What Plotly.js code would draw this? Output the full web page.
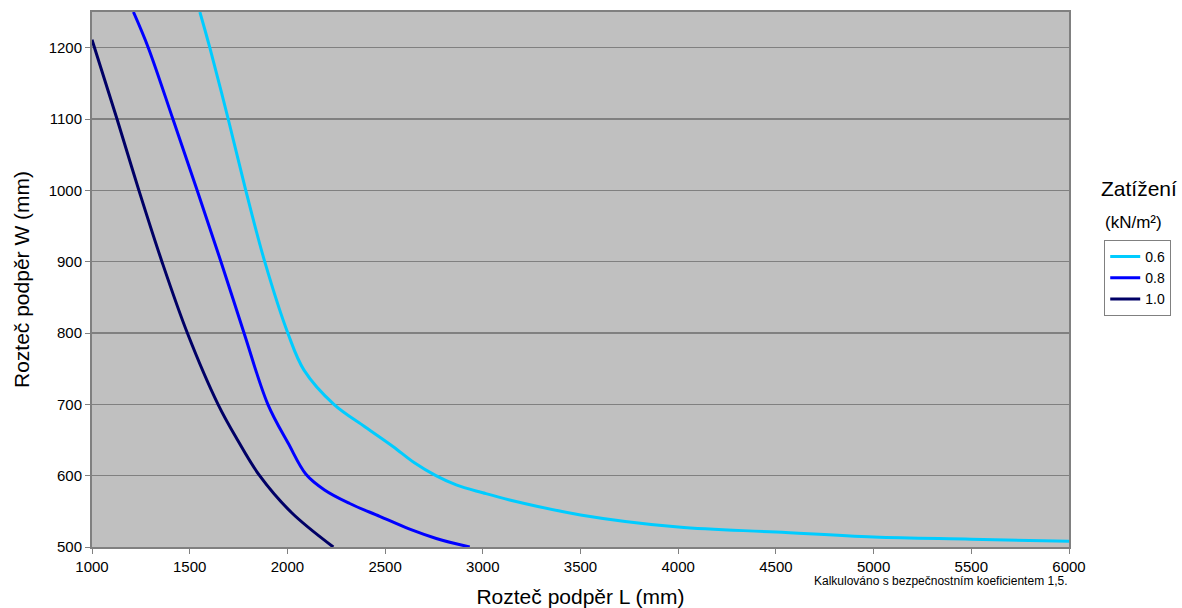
<!DOCTYPE html>
<html>
<head>
<meta charset="utf-8">
<script src="https://cdn.plot.ly/plotly-3.0.1.min.js"></script>
<style>html,body{margin:0;padding:0;background:#fff;}#chart{width:1182px;height:608px;}</style>
</head>
<body>
<div id="chart"></div>
<script>
// Load 0.6 kN/m²
const L06 = [1552, 1603, 1697, 1787, 1884, 2002, 2085, 2238, 2400, 2540, 2650, 2760, 2864, 3000, 3137, 3500, 4000, 4500, 5000, 5500, 6000];
const W06 = [1250, 1200, 1100, 1000, 900, 800, 748, 700, 668, 641, 618, 600, 587, 576, 566, 545, 528, 521, 514, 511, 508];
// Load 0.8 kN/m²
const L08 = [1212, 1288, 1414, 1538, 1660, 1778, 1900, 2005, 2095, 2190, 2319, 2472, 2626, 2762, 2933];
const W08 = [1250, 1200, 1100, 1000, 900, 800, 700, 645, 602, 580, 561, 543, 525, 512, 500];
// Load 1.0 kN/m²
const L10 = [1000, 1128, 1240, 1358, 1488, 1645, 1745, 1858, 2022, 2235];
const W10 = [1211, 1100, 1000, 900, 800, 700, 650, 600, 548, 500];

const seriesNames = ['0.6', '0.8', '1.0'];
const xTicks = [1000, 1500, 2000, 2500, 3000, 3500, 4000, 4500, 5000, 5500, 6000];
const yTicks = [500, 600, 700, 800, 900, 1000, 1100, 1200];

const colors = ['#00ccff', '#0000ff', '#000066'];
const xs = [L06, L08, L10];
const ys = [W06, W08, W10];

const traces = seriesNames.map((n, i) => ({
  x: xs[i], y: ys[i], name: n, type: 'scatter', mode: 'lines',
  line: {color: colors[i], width: 3, shape: 'spline', smoothing: 1},
  hoverinfo: 'skip'
}));

const font = 'Liberation Sans, Arial, sans-serif';
const layout = {
  width: 1182, height: 608,
  margin: {l: 92, r: 112, t: 12, b: 61},
  paper_bgcolor: '#ffffff',
  plot_bgcolor: '#c0c0c0',
  font: {family: font, size: 15, color: '#000'},
  showlegend: true,
  legend: {
    x: 1.035, y: 0.574, xanchor: 'left', yanchor: 'top',
    bgcolor: '#ffffff', bordercolor: '#808080', borderwidth: 1,
    font: {family: font, size: 14, color: '#000'},
    tracegroupgap: 0, itemwidth: 30
  },
  xaxis: {
    range: [1000, 6000], tickvals: xTicks, ticktext: xTicks.map(String),
    showgrid: false, zeroline: false,
    showline: true, linecolor: '#808080', linewidth: 2, mirror: true,
    ticks: 'outside', ticklen: 5, tickcolor: '#808080',
    tickfont: {family: font, size: 15, color: '#000'},
    title: {text: 'Rozteč podpěr L (mm)', font: {family: font, size: 21, color: '#000'}, standoff: 15}
  },
  yaxis: {
    range: [500, 1250], tickvals: yTicks, ticktext: yTicks.map(String),
    showgrid: true, gridcolor: '#808080', gridwidth: 1.5, zeroline: false,
    showline: true, linecolor: '#808080', linewidth: 2, mirror: true,
    ticks: 'outside', ticklen: 5, tickcolor: '#808080',
    tickfont: {family: font, size: 15, color: '#000'},
    title: {text: 'Rozteč podpěr W (mm)', font: {family: font, size: 21, color: '#000'}, standoff: 13}
  },
  annotations: [
    {text: 'Zatížení', xref: 'paper', yref: 'paper', x: 1.031, y: 0.671, xanchor: 'left', yanchor: 'middle',
     showarrow: false, font: {family: font, size: 21, color: '#000'}},
    {text: '(kN/m²)', xref: 'paper', yref: 'paper', x: 1.035, y: 0.607, xanchor: 'left', yanchor: 'middle',
     showarrow: false, font: {family: font, size: 17, color: '#000'}},
    {text: 'Kalkulováno s bezpečnostním koeficientem 1,5.', xref: 'paper', yref: 'paper', x: 1.0, y: -0.063,
     xanchor: 'right', yanchor: 'middle', showarrow: false, font: {family: font, size: 12, color: '#000'}}
  ]
};

Plotly.newPlot('chart', traces, layout, {displayModeBar: false, staticPlot: true});
</script>
</body>
</html>
